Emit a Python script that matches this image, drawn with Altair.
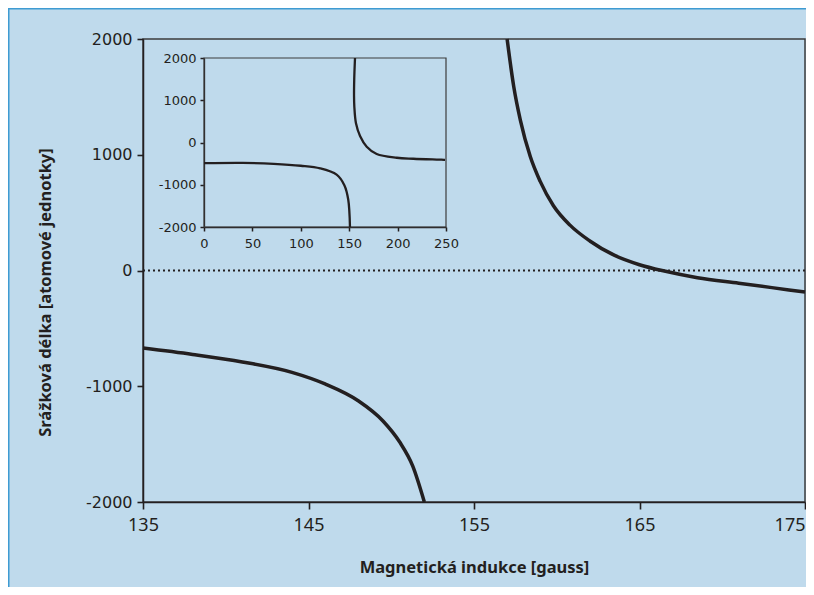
import altair as alt
import pandas as pd

# ---- data ----
main_left_x = [135.0, 138.0, 141.0, 144.0, 146.0, 148.0, 149.5, 150.5, 151.3, 152.0]
main_left_y = [-670, -725, -790, -880, -980, -1125, -1300, -1480, -1690, -2000]
main_right_x = [157.0, 157.4, 157.8, 158.4, 159.0, 159.8, 160.8, 162.0, 163.5, 165.0, 166.5, 168.5, 171.0, 173.0, 175.0]
main_right_y = [2000, 1590, 1300, 985, 770, 560, 392, 255, 130, 50, -5, -62, -110, -148, -186]

inset_left_x = [0, 40, 72, 100, 120, 137, 145, 149, 150.8]
inset_left_y = [-490, -482, -505, -550, -612, -760, -1010, -1350, -2000]
inset_right_x = [156.0, 155.2, 155.0, 155.3, 157.0, 161.2, 168.1, 178.4, 199.1, 216.2, 249.0]
inset_right_y = [2000, 1500, 1100, 850, 456, 154, -100, -273, -361, -385, -410]

main_ticks_x = [135, 145, 155, 165, 175]
main_ticks_y = [-2000, -1000, 0, 1000, 2000]
inset_ticks_x = [0, 50, 100, 150, 200, 250]
inset_ticks_y = [-2000, -1000, 0, 1000, 2000]

x_title = "Magnetická indukce [gauss]"
y_title = "Srážková délka [atomové jednotky]"

INK = "#231F20"
BG = "#BFDAEC"
FRAME = "#3F9BD2"


def branches(xs_list, ys_list):
    rows = []
    for b, (xs, ys) in enumerate(zip(xs_list, ys_list)):
        for i, (x, y) in enumerate(zip(xs, ys)):
            rows.append({"x": x, "y": y, "branch": b, "i": i})
    return pd.DataFrame(rows)


main_df = branches([main_left_x, main_right_x], [main_left_y, main_right_y])
inset_df = branches([inset_left_x, inset_right_x], [inset_left_y, inset_right_y])
frame_df = pd.DataFrame({"x": [inset_ticks_x[0]], "x2": [inset_ticks_x[-1]],
                         "y": [inset_ticks_y[0]], "y2": [inset_ticks_y[-1]]})

W, H = 662, 463
PL, PT, PR, PB = 135, 31, 1, 85

main_x = alt.X("x:Q", scale=alt.Scale(domain=[135, 175], nice=False, zero=False),
               axis=alt.Axis(values=main_ticks_x, tickSize=7, tickWidth=1.6, domainWidth=1.5,
                             domainColor=INK, tickColor=INK, labelColor=INK,
                             labelFont="Liberation Sans Narrow, Noto Sans", labelFontSize=18,
                             labelPadding=7, labelFlush=False,
                             labelAlign=alt.ExprRef(expr="datum.value == 175 ? 'right' : 'center'"),
                             grid=False,
                             title=x_title, titleFont="Noto Sans", titleFontWeight="bold",
                             titleFontSize=16.5, titleColor=INK, titleY=70,
                             titleBaseline="alphabetic"))
main_y = alt.Y("y:Q", scale=alt.Scale(domain=[-2000, 2000], nice=False, zero=False),
               axis=alt.Axis(values=main_ticks_y, tickSize=6, tickWidth=1.6, domainWidth=1.5,
                             domainColor=INK, tickColor=INK, labelColor=INK,
                             labelFont="DejaVu Sans", labelFontSize=16, labelPadding=5,
                             labelFlush=False,
                             labelExpr="'' + datum.value", grid=False,
                             title=y_title, titleFont="Noto Sans", titleFontWeight="bold",
                             titleFontSize=16.5, titleColor=INK, titleAngle=270,
                             titleX=-93, titleY=253, titleAlign="center",
                             titleBaseline="alphabetic"))

main_line = alt.Chart(main_df).mark_line(color=INK, strokeWidth=3.5, interpolate="monotone").encode(
    x=main_x, y=main_y, detail="branch:N", order="i:Q")

zero_rule = alt.Chart(pd.DataFrame({"z": [0]})).mark_rule(
    color=INK, strokeWidth=2, strokeDash=[2, 3]).encode(y=alt.Y("z:Q"))

one = pd.DataFrame({"a": [0]})
border_left = alt.Chart(one).mark_rule(color=FRAME, strokeWidth=1.5).encode(
    x=alt.value(-PL + 0.75), y=alt.value(-PT), y2=alt.value(H + PB))
border_top = alt.Chart(one).mark_rule(color=FRAME, strokeWidth=1.5).encode(
    x=alt.value(-PL), x2=alt.value(W + PR), y=alt.value(-PT + 0.75))

main_layer = alt.layer(zero_rule, main_line, border_left, border_top)

ix = alt.X("x:Q", scale=alt.Scale(domain=[0, 250], range=[61, 303], nice=False, zero=False),
           axis=alt.Axis(orient="bottom", offset=-(H - 188), values=inset_ticks_x, tickSize=4,
                         tickWidth=1.5, domainWidth=1.3, domainColor=INK, tickColor=INK,
                         labelColor=INK, labelFont="DejaVu Sans", labelFontSize=13,
                         labelPadding=6, labelFlush=False, grid=False),
           title=None)
iy = alt.Y("y:Q", scale=alt.Scale(domain=[-2000, 2000], range=[188, 19], nice=False, zero=False),
           axis=alt.Axis(orient="left", offset=-61, values=inset_ticks_y, tickSize=4,
                         tickWidth=1.5, domainWidth=1.3, domainColor=INK, tickColor=INK,
                         labelColor=INK, labelFont="DejaVu Sans", labelFontSize=13,
                         labelPadding=4, labelFlush=False,
                         labelExpr="'' + datum.value", grid=False),
           title=None)

inset_frame = alt.Chart(frame_df).mark_rect(fillOpacity=0, stroke="#3C3C3C", strokeWidth=1.2).encode(
    x=ix, x2="x2:Q", y=iy, y2="y2:Q")
inset_line = alt.Chart(inset_df).mark_line(color=INK, strokeWidth=2.3, interpolate="catmull-rom").encode(
    x=ix, y=iy, detail="branch:N", order="i:Q")

inset_layer = alt.layer(inset_frame, inset_line)

chart = alt.layer(main_layer, inset_layer).resolve_scale(
    x="independent", y="independent").resolve_axis(x="independent", y="independent").properties(
    width=W, height=H,
    padding={"left": PL, "top": PT, "right": PR, "bottom": PB},
    autosize=alt.AutoSizeParams(type="none"),
    background=BG,
).configure_view(stroke="#3C3C3C", strokeWidth=1.5)

chart.save("out.html", embed_options={"renderer": "svg", "actions": False})
